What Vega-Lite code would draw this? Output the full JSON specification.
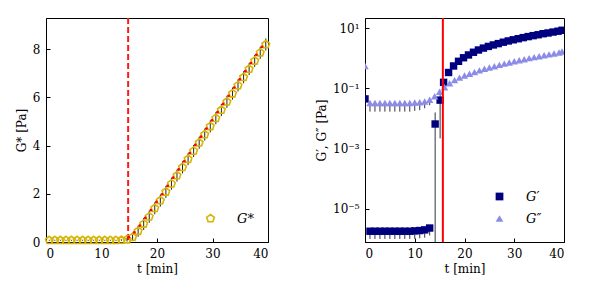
{
  "$schema": "https://vega.github.io/schema/vega-lite/v6.json",
  "background": "white",
  "padding": {"left": 14, "top": 16, "right": 5, "bottom": 5},
  "bounds": "flush",
  "spacing": 97,
  "resolve": {"scale": {"color": "independent", "shape": "independent", "x": "independent", "y": "independent"}, "legend": {"color": "independent", "shape": "independent"}},
  "config": {
    "font": "DejaVu Serif",
    "view": {"stroke": "black", "strokeWidth": 1},
    "axis": {
      "domainColor": "black", "tickColor": "black", "labelColor": "black", "titleColor": "black",
      "labelFont": "DejaVu Serif", "titleFont": "DejaVu Serif",
      "labelFontSize": 12, "titleFontSize": 12, "titleFontWeight": "normal",
      "grid": false, "tickSize": -4, "labelPadding": 10
    },
    "legend": {"labelFont": "DejaVu Serif", "labelFontSize": 13, "labelFontStyle": "italic", "labelColor": "black"}
  },
  "datasets": {
    "gstar": [
      {"t": 0.6, "G": 0.07, "lo": 0.05, "hi": 0.09, "series": "G*"},
      {"t": 1.6, "G": 0.07, "lo": 0.05, "hi": 0.09, "series": "G*"},
      {"t": 2.6, "G": 0.07, "lo": 0.05, "hi": 0.09, "series": "G*"},
      {"t": 3.6, "G": 0.07, "lo": 0.05, "hi": 0.09, "series": "G*"},
      {"t": 4.6, "G": 0.07, "lo": 0.05, "hi": 0.09, "series": "G*"},
      {"t": 5.6, "G": 0.07, "lo": 0.05, "hi": 0.09, "series": "G*"},
      {"t": 6.6, "G": 0.07, "lo": 0.05, "hi": 0.09, "series": "G*"},
      {"t": 7.6, "G": 0.07, "lo": 0.05, "hi": 0.09, "series": "G*"},
      {"t": 8.6, "G": 0.07, "lo": 0.05, "hi": 0.09, "series": "G*"},
      {"t": 9.6, "G": 0.07, "lo": 0.05, "hi": 0.09, "series": "G*"},
      {"t": 10.6, "G": 0.07, "lo": 0.05, "hi": 0.09, "series": "G*"},
      {"t": 11.6, "G": 0.07, "lo": 0.05, "hi": 0.09, "series": "G*"},
      {"t": 12.6, "G": 0.07, "lo": 0.05, "hi": 0.09, "series": "G*"},
      {"t": 13.6, "G": 0.08, "lo": 0.05, "hi": 0.11, "series": "G*"},
      {"t": 14.6, "G": 0.1, "lo": 0.02, "hi": 0.18, "series": "G*"},
      {"t": 15.6, "G": 0.2, "lo": 0.05, "hi": 0.35, "series": "G*"},
      {"t": 16.6, "G": 0.45, "lo": 0.22, "hi": 0.68, "series": "G*"},
      {"t": 17.6, "G": 0.75, "lo": 0.5, "hi": 1.0, "series": "G*"},
      {"t": 18.6, "G": 1.05, "lo": 0.8, "hi": 1.3, "series": "G*"},
      {"t": 19.6, "G": 1.4, "lo": 1.15, "hi": 1.65, "series": "G*"},
      {"t": 20.6, "G": 1.72, "lo": 1.47, "hi": 1.97, "series": "G*"},
      {"t": 21.6, "G": 2.08, "lo": 1.83, "hi": 2.33, "series": "G*"},
      {"t": 22.6, "G": 2.42, "lo": 2.17, "hi": 2.67, "series": "G*"},
      {"t": 23.6, "G": 2.76, "lo": 2.51, "hi": 3.01, "series": "G*"},
      {"t": 24.6, "G": 3.1, "lo": 2.85, "hi": 3.35, "series": "G*"},
      {"t": 25.6, "G": 3.44, "lo": 3.19, "hi": 3.69, "series": "G*"},
      {"t": 26.6, "G": 3.78, "lo": 3.53, "hi": 4.03, "series": "G*"},
      {"t": 27.6, "G": 4.12, "lo": 3.87, "hi": 4.37, "series": "G*"},
      {"t": 28.6, "G": 4.46, "lo": 4.21, "hi": 4.71, "series": "G*"},
      {"t": 29.6, "G": 4.8, "lo": 4.55, "hi": 5.05, "series": "G*"},
      {"t": 30.6, "G": 5.14, "lo": 4.89, "hi": 5.39, "series": "G*"},
      {"t": 31.6, "G": 5.48, "lo": 5.23, "hi": 5.73, "series": "G*"},
      {"t": 32.6, "G": 5.82, "lo": 5.57, "hi": 6.07, "series": "G*"},
      {"t": 33.6, "G": 6.16, "lo": 5.91, "hi": 6.41, "series": "G*"},
      {"t": 34.6, "G": 6.5, "lo": 6.25, "hi": 6.75, "series": "G*"},
      {"t": 35.6, "G": 6.84, "lo": 6.59, "hi": 7.09, "series": "G*"},
      {"t": 36.6, "G": 7.18, "lo": 6.93, "hi": 7.43, "series": "G*"},
      {"t": 37.6, "G": 7.52, "lo": 7.27, "hi": 7.77, "series": "G*"},
      {"t": 38.6, "G": 7.86, "lo": 7.61, "hi": 8.11, "series": "G*"},
      {"t": 39.6, "G": 8.2, "lo": 7.95, "hi": 8.45, "series": "G*"}
    ],
    "red": [
      {"t": 14.9, "G": 0.2}, {"t": 15.9, "G": 0.4}, {"t": 16.9, "G": 0.68}, {"t": 17.9, "G": 1.0},
      {"t": 18.9, "G": 1.32}, {"t": 19.9, "G": 1.66}, {"t": 20.9, "G": 1.98}, {"t": 21.9, "G": 2.33},
      {"t": 22.9, "G": 2.67}, {"t": 23.9, "G": 3.01}, {"t": 24.9, "G": 3.35}, {"t": 25.9, "G": 3.69},
      {"t": 26.9, "G": 4.03}, {"t": 27.9, "G": 4.37}, {"t": 28.9, "G": 4.71}, {"t": 29.9, "G": 5.05},
      {"t": 30.9, "G": 5.39}, {"t": 31.9, "G": 5.73}, {"t": 32.9, "G": 6.07}, {"t": 33.9, "G": 6.41},
      {"t": 34.9, "G": 6.75}, {"t": 35.9, "G": 7.09}, {"t": 36.9, "G": 7.43}, {"t": 37.9, "G": 7.77},
      {"t": 38.9, "G": 8.1}
    ],
    "moduli": [
      {"t": 0, "G": 0.045, "series": "G′"},
      {"t": 1, "G": 1.8e-6, "series": "G′"},
      {"t": 2, "G": 1.8e-6, "series": "G′"},
      {"t": 3, "G": 1.8e-6, "series": "G′"},
      {"t": 4, "G": 1.8e-6, "series": "G′"},
      {"t": 5, "G": 1.8e-6, "series": "G′"},
      {"t": 6, "G": 1.8e-6, "series": "G′"},
      {"t": 7, "G": 1.8e-6, "series": "G′"},
      {"t": 8, "G": 1.8e-6, "series": "G′"},
      {"t": 9, "G": 1.8e-6, "series": "G′"},
      {"t": 10, "G": 1.85e-6, "series": "G′"},
      {"t": 11, "G": 1.9e-6, "series": "G′"},
      {"t": 12, "G": 2.0e-6, "series": "G′"},
      {"t": 13, "G": 2.3e-6, "series": "G′"},
      {"t": 14.1, "G": 0.0066, "series": "G′"},
      {"t": 15.1, "G": 0.041, "series": "G′"},
      {"t": 15.8, "G": 0.16, "series": "G′"},
      {"t": 16.8, "G": 0.34, "series": "G′"},
      {"t": 17.8, "G": 0.56, "series": "G′"},
      {"t": 18.8, "G": 0.8, "series": "G′"},
      {"t": 19.8, "G": 1.05, "series": "G′"},
      {"t": 20.8, "G": 1.3, "series": "G′"},
      {"t": 21.8, "G": 1.6, "series": "G′"},
      {"t": 22.8, "G": 1.9, "series": "G′"},
      {"t": 23.8, "G": 2.2, "series": "G′"},
      {"t": 24.8, "G": 2.5, "series": "G′"},
      {"t": 25.8, "G": 2.8, "series": "G′"},
      {"t": 26.8, "G": 3.1, "series": "G′"},
      {"t": 27.8, "G": 3.45, "series": "G′"},
      {"t": 28.8, "G": 3.8, "series": "G′"},
      {"t": 29.8, "G": 4.15, "series": "G′"},
      {"t": 30.8, "G": 4.5, "series": "G′"},
      {"t": 31.8, "G": 4.9, "series": "G′"},
      {"t": 32.8, "G": 5.3, "series": "G′"},
      {"t": 33.8, "G": 5.7, "series": "G′"},
      {"t": 34.8, "G": 6.1, "series": "G′"},
      {"t": 35.8, "G": 6.6, "series": "G′"},
      {"t": 36.8, "G": 7.0, "series": "G′"},
      {"t": 37.8, "G": 7.5, "series": "G′"},
      {"t": 38.8, "G": 8.0, "series": "G′"},
      {"t": 39.6, "G": 8.6, "series": "G′"},
      {"t": 0, "G": 0.56, "series": "G″"},
      {"t": 1, "G": 0.033, "series": "G″"},
      {"t": 2, "G": 0.033, "series": "G″"},
      {"t": 3, "G": 0.033, "series": "G″"},
      {"t": 4, "G": 0.033, "series": "G″"},
      {"t": 5, "G": 0.033, "series": "G″"},
      {"t": 6, "G": 0.033, "series": "G″"},
      {"t": 7, "G": 0.033, "series": "G″"},
      {"t": 8, "G": 0.033, "series": "G″"},
      {"t": 9, "G": 0.033, "series": "G″"},
      {"t": 10, "G": 0.034, "series": "G″"},
      {"t": 11, "G": 0.035, "series": "G″"},
      {"t": 12, "G": 0.037, "series": "G″"},
      {"t": 13, "G": 0.042, "series": "G″"},
      {"t": 14, "G": 0.055, "series": "G″"},
      {"t": 15, "G": 0.078, "series": "G″"},
      {"t": 16, "G": 0.11, "series": "G″"},
      {"t": 17, "G": 0.15, "series": "G″"},
      {"t": 18, "G": 0.19, "series": "G″"},
      {"t": 19, "G": 0.23, "series": "G″"},
      {"t": 20, "G": 0.27, "series": "G″"},
      {"t": 21, "G": 0.31, "series": "G″"},
      {"t": 22, "G": 0.35, "series": "G″"},
      {"t": 23, "G": 0.4, "series": "G″"},
      {"t": 24, "G": 0.45, "series": "G″"},
      {"t": 25, "G": 0.5, "series": "G″"},
      {"t": 26, "G": 0.55, "series": "G″"},
      {"t": 27, "G": 0.61, "series": "G″"},
      {"t": 28, "G": 0.67, "series": "G″"},
      {"t": 29, "G": 0.73, "series": "G″"},
      {"t": 30, "G": 0.8, "series": "G″"},
      {"t": 31, "G": 0.87, "series": "G″"},
      {"t": 32, "G": 0.94, "series": "G″"},
      {"t": 33, "G": 1.02, "series": "G″"},
      {"t": 34, "G": 1.1, "series": "G″"},
      {"t": 35, "G": 1.18, "series": "G″"},
      {"t": 36, "G": 1.27, "series": "G″"},
      {"t": 37, "G": 1.36, "series": "G″"},
      {"t": 38, "G": 1.46, "series": "G″"},
      {"t": 39, "G": 1.57, "series": "G″"},
      {"t": 39.6, "G": 1.7, "series": "G″"}
    ],
    "moduliErr": [
      {"t": 1, "lo": 1.0e-6, "hi": 1.8e-6}, {"t": 2, "lo": 1.0e-6, "hi": 1.8e-6}, {"t": 3, "lo": 1.0e-6, "hi": 1.8e-6},
      {"t": 4, "lo": 1.0e-6, "hi": 1.8e-6}, {"t": 5, "lo": 1.0e-6, "hi": 1.8e-6}, {"t": 6, "lo": 1.0e-6, "hi": 1.8e-6},
      {"t": 7, "lo": 1.0e-6, "hi": 1.8e-6}, {"t": 8, "lo": 1.0e-6, "hi": 1.8e-6}, {"t": 9, "lo": 1.0e-6, "hi": 1.8e-6},
      {"t": 10, "lo": 1.0e-6, "hi": 1.8e-6}, {"t": 11, "lo": 1.05e-6, "hi": 1.9e-6}, {"t": 12, "lo": 1.1e-6, "hi": 2.0e-6},
      {"t": 13, "lo": 1.3e-6, "hi": 2.3e-6},
      {"t": 1, "lo": 0.017, "hi": 0.033}, {"t": 2, "lo": 0.017, "hi": 0.033}, {"t": 3, "lo": 0.017, "hi": 0.033},
      {"t": 4, "lo": 0.017, "hi": 0.033}, {"t": 5, "lo": 0.017, "hi": 0.033}, {"t": 6, "lo": 0.017, "hi": 0.033},
      {"t": 7, "lo": 0.017, "hi": 0.033}, {"t": 8, "lo": 0.017, "hi": 0.033}, {"t": 9, "lo": 0.017, "hi": 0.033},
      {"t": 10, "lo": 0.018, "hi": 0.034}, {"t": 11, "lo": 0.019, "hi": 0.035}, {"t": 12, "lo": 0.022, "hi": 0.037},
      {"t": 13, "lo": 0.028, "hi": 0.042},
      {"t": 14.1, "lo": 1e-7, "hi": 0.016},
      {"t": 15.1, "lo": 0.0022, "hi": 0.06}
    ],
    "marker": [{"t": 14.8}],
    "gel": [{"t": 15.65}]
  },
  "hconcat": [
    {
      "width": 222,
      "height": 224,
      "layer": [
        {
          "data": {"name": "marker"},
          "mark": {"type": "rule", "color": "#ff1a1a", "strokeWidth": 2, "strokeDash": [6, 3]},
          "encoding": {"x": {"field": "t", "type": "quantitative"}}
        },
        {
          "data": {"name": "gstar"},
          "mark": {"type": "rule", "color": "#222222", "strokeWidth": 1},
          "encoding": {
            "x": {"field": "t", "type": "quantitative"},
            "y": {"field": "lo", "type": "quantitative"},
            "y2": {"field": "hi"}
          }
        },
        {
          "data": {"name": "gstar"},
          "mark": {"type": "point", "filled": false, "strokeWidth": 1.6, "opacity": 1, "size": 64},
          "encoding": {
            "x": {"field": "t", "type": "quantitative", "scale": {"domain": [0, 40], "nice": false},
              "axis": {"values": [0, 10, 20, 30, 40], "title": "t [min]", "titlePadding": 4}},
            "y": {"field": "G", "type": "quantitative", "scale": {"domain": [0, 9.3], "nice": false},
              "axis": {"values": [0, 2, 4, 6, 8], "title": "G* [Pa]", "titlePadding": 4}},
            "color": {"field": "series", "type": "nominal", "scale": {"domain": ["G*"], "range": ["#d6b400"]},
              "legend": {"title": null, "orient": "none", "legendX": 158, "legendY": 194, "symbolStrokeWidth": 1.6, "symbolSize": 64, "labelOffset": 20}},
            "shape": {"field": "series", "type": "nominal", "scale": {"domain": ["G*"], "range": ["M0,-1L0.951,-0.309L0.588,0.809L-0.588,0.809L-0.951,-0.309Z"]}}
          }
        },
        {
          "data": {"name": "red"},
          "mark": {"type": "point", "filled": true, "color": "#ff0000", "opacity": 1, "size": 8},
          "encoding": {
            "x": {"field": "t", "type": "quantitative"},
            "y": {"field": "G", "type": "quantitative"}
          }
        },
        {
          "mark": {"type": "text", "align": "left", "baseline": "middle", "fontSize": 12, "font": "DejaVu Serif"},
          "encoding": {
            "x": {"datum": 0.8},
            "y": {"datum": 8.9},
            "text": {"value": "a)"}
          }
        }
      ]
    },
    {
      "width": 199,
      "height": 224,
      "layer": [
        {
          "data": {"name": "moduliErr"},
          "mark": {"type": "rule", "color": "#333344", "strokeWidth": 1, "clip": true},
          "encoding": {
            "x": {"field": "t", "type": "quantitative"},
            "y": {"field": "lo", "type": "quantitative"},
            "y2": {"field": "hi"}
          }
        },
        {
          "data": {"name": "moduli"},
          "mark": {"type": "point", "filled": true, "opacity": 1, "size": 55, "clip": true},
          "encoding": {
            "x": {"field": "t", "type": "quantitative", "scale": {"domain": [0, 40], "nice": false},
              "axis": {"values": [0, 10, 20, 30, 40], "title": "t [min]", "titlePadding": 4}},
            "y": {"field": "G", "type": "quantitative", "scale": {"type": "log", "domain": [7.9e-7, 22], "nice": false},
              "axis": {"values": [10, 0.1, 0.001, 0.00001], "title": "G′, G″ [Pa]", "titlePadding": 4,
                "labelExpr": "datum.value >= 5 ? '10¹' : datum.value >= 0.05 ? '10⁻¹' : datum.value >= 0.0005 ? '10⁻³' : '10⁻⁵'"}},
            "color": {"field": "series", "type": "nominal", "scale": {"domain": ["G′", "G″"], "range": ["#00007f", "#8c8ce8"]},
              "legend": {"title": null, "orient": "none", "legendX": 128, "legendY": 172, "symbolSize": 60, "labelOffset": 20, "rowPadding": 8}},
            "shape": {"field": "series", "type": "nominal", "scale": {"domain": ["G′", "G″"], "range": ["square", "triangle-up"]}}
          }
        },
        {
          "data": {"name": "gel"},
          "mark": {"type": "rule", "color": "#ff0000", "strokeWidth": 2},
          "encoding": {"x": {"field": "t", "type": "quantitative"}}
        },
        {
          "mark": {"type": "text", "align": "left", "baseline": "middle", "fontSize": 12, "font": "DejaVu Serif"},
          "encoding": {
            "x": {"datum": 1.0},
            "y": {"datum": 10.5},
            "text": {"value": "b)"}
          }
        }
      ]
    }
  ]
}
